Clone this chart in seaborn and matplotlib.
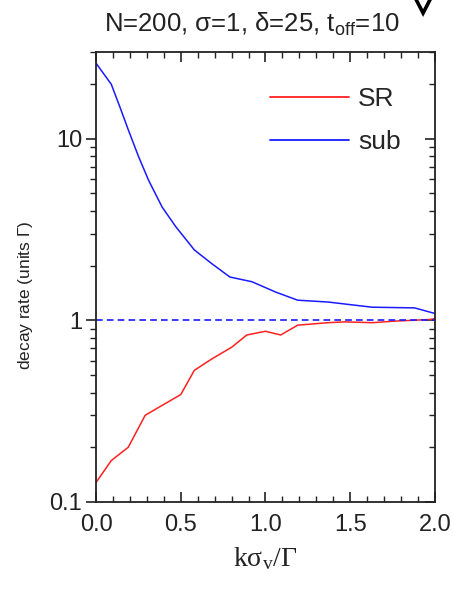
import numpy as np
import pandas as pd
import matplotlib
matplotlib.use("Agg")
import matplotlib.pyplot as plt
import matplotlib.ticker as mticker
from matplotlib.lines import Line2D
import seaborn as sns

# Decay rates versus normalized Doppler width
k_sr = [0.0, 0.09, 0.19, 0.29, 0.39, 0.50, 0.58, 0.68, 0.80, 0.89, 1.00, 1.09,
        1.19, 1.37, 1.47, 1.63, 1.77, 1.97, 2.0]
rate_sr = [0.128, 0.169, 0.20, 0.30, 0.34, 0.39, 0.53, 0.61, 0.71, 0.83, 0.87, 0.83,
           0.94, 0.97, 0.98, 0.97, 0.99, 1.01, 1.02]

k_sub = [0.0, 0.09, 0.14, 0.19, 0.25, 0.31, 0.39, 0.47, 0.58, 0.68, 0.79, 0.92,
         1.06, 1.19, 1.37, 1.63, 1.88, 2.0]
rate_sub = [26.0, 19.9, 15.0, 11.2, 8.0, 5.9, 4.2, 3.28, 2.44, 2.06, 1.73, 1.63,
            1.43, 1.29, 1.26, 1.18, 1.17, 1.09]

series_names = ["SR", "sub"]
reference_rate = 1.0
x_ticks = [0.0, 0.5, 1.0, 1.5, 2.0]
y_ticks = [0.1, 1, 10]
y_tick_labels = ["0.1", "1", "10"]
title_text = r"N=200, $\mathregular{\sigma}$=1, $\mathregular{\delta}$=25, t$_{\mathregular{off}}$=10"

df = pd.concat([
    pd.DataFrame({"k": k_sr, "rate": rate_sr, "series": series_names[0]}),
    pd.DataFrame({"k": k_sub, "rate": rate_sub, "series": series_names[1]}),
], ignore_index=True)

sns.set_style("ticks")
plt.rcParams["font.family"] = ["Liberation Sans", "DejaVu Sans"]
plt.rcParams["mathtext.fontset"] = "custom"
plt.rcParams["mathtext.rm"] = "Liberation Sans"

fig = plt.figure(figsize=(4.53, 5.93), dpi=100)
ax = fig.add_axes([0.212, 0.1535, 0.748, 0.759])

sns.lineplot(data=df, x="k", y="rate", hue="series",
             palette={"SR": "#ff2020", "sub": "#1a1aff"},
             linewidth=1.1, ax=ax, legend=True, sort=False)

ax.axhline(reference_rate, color="#1a1aff", linewidth=1.2, linestyle=(0, (4, 2.5)))

ax.set_yscale("log")
ax.set_xlim(0.0, 2.0)
ax.set_ylim(0.1, 30)

ax.set_xticks(x_ticks)
ax.set_xticklabels([f"{v:.1f}" for v in x_ticks])
ax.xaxis.set_minor_locator(mticker.MultipleLocator(0.1))
ax.yaxis.set_major_locator(mticker.FixedLocator(y_ticks))
ax.yaxis.set_major_formatter(mticker.FixedFormatter(y_tick_labels))
ax.yaxis.set_minor_locator(mticker.LogLocator(base=10, subs=np.arange(2, 10)))
ax.yaxis.set_minor_formatter(mticker.NullFormatter())

for side in ["left", "right", "top", "bottom"]:
    ax.spines[side].set_visible(True)
    ax.spines[side].set_color("#222222")
    ax.spines[side].set_linewidth(1.3)

ax.tick_params(axis="x", which="both", direction="in", top=True, bottom=True,
               labelsize=17, pad=9, colors="#222222")
ax.tick_params(axis="x", which="major", length=7, width=1.2)
ax.tick_params(axis="x", which="minor", length=4, width=1.0)
ax.tick_params(axis="y", which="both", direction="out", left=True, right=False,
               labelsize=17, pad=3, colors="#222222")
ax.tick_params(axis="y", which="major", length=7, width=1.2)
ax.tick_params(axis="y", which="minor", length=4, width=1.0)

# inward ticks on the right edge mirror the left axis
ax_r = ax.secondary_yaxis("right")
ax_r.yaxis.set_major_locator(mticker.FixedLocator(y_ticks))
ax_r.yaxis.set_minor_locator(mticker.LogLocator(base=10, subs=np.arange(2, 10)))
ax_r.yaxis.set_major_formatter(mticker.NullFormatter())
ax_r.yaxis.set_minor_formatter(mticker.NullFormatter())
ax_r.tick_params(which="both", direction="in", colors="#222222")
ax_r.tick_params(which="major", length=7, width=1.2)
ax_r.tick_params(which="minor", length=4, width=1.0)
ax_r.spines["right"].set_visible(False)

ax.set_xlabel(r"k$\mathregular{\sigma_v}$/$\mathregular{\Gamma}$", fontsize=20,
              family=["Liberation Serif", "DejaVu Serif"], labelpad=6, color="#222222")
ax.set_ylabel(r"decay rate (units $\mathregular{\Gamma}$)", fontsize=12.5, color="#222222")
ax.yaxis.set_label_coords(-0.18, 0.46)
fig.text(0.556, 0.947, title_text, fontsize=18.5, ha="center", va="baseline",
         color="#222222")

leg = ax.legend(loc="upper left", bbox_to_anchor=(0.513, 0.922), frameon=False,
                fontsize=19, handlelength=3.0, handletextpad=0.35, labelspacing=0.72,
                borderpad=0.0, borderaxespad=0.0)
for line in leg.get_lines():
    line.set_linewidth(1.3)

# chevron mark in the top-right corner
fig.add_artist(Line2D([0.915, 0.934, 0.953], [1.006, 0.978, 1.006],
                      transform=fig.transFigure, color="black", linewidth=2.6,
                      solid_joinstyle="miter"))

fig.savefig("out.png", dpi=100, facecolor="white")
